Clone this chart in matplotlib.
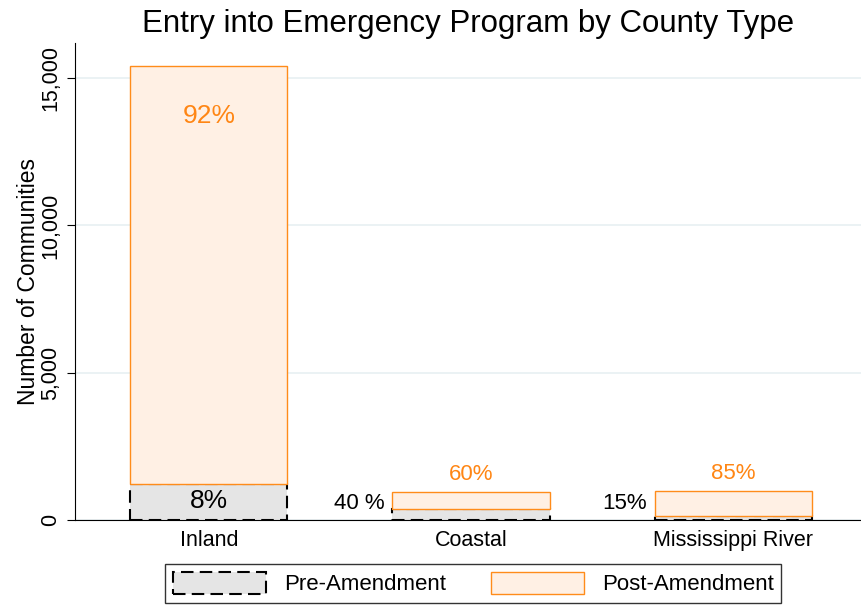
import numpy as np
import matplotlib
matplotlib.use('Agg')
import matplotlib.pyplot as plt
from matplotlib.patches import Patch

plt.rcParams['font.family'] = ['Liberation Sans', 'DejaVu Sans']

counties = ['Inland', 'Coastal', 'Mississippi River']
pre = [1230, 380, 150]
post = [14170, 570, 835]
pre_labels = ['8%', '40 %', '15%']
post_labels = ['92%', '60%', '85%']

orange_edge = '#ff8c1a'
orange_fill = '#fff0e4'
orange_text = '#ff8614'
gray_fill = '#e5e5e5'

fig = plt.figure(figsize=(8.62, 6.07), dpi=100)
ax = fig.add_axes([0.087, 0.1433, 0.913, 0.7857])

x = np.arange(len(counties))
w = 0.6
ax.bar(x, pre, width=w, color=gray_fill, edgecolor='black', linestyle=(0, (6, 3)), linewidth=1.5)
ax.bar(x, post, width=w, bottom=pre, color=orange_fill, edgecolor=orange_edge, linewidth=1.0)

tops = np.array(pre) + np.array(post)
# post-amendment labels
ax.text(x[0], tops[0] - 1700, post_labels[0], ha='center', va='center', color=orange_text, fontsize=19)
for i in [1, 2]:
    ax.text(x[i], tops[i] + 600, post_labels[i], ha='center', va='center', color=orange_text, fontsize=16)
# pre-amendment labels
ax.text(x[0], pre[0] / 2 + 30, pre_labels[0], ha='center', va='center', color='black', fontsize=19)
for i in [1, 2]:
    ax.text(x[i] - w / 2 - 0.03, 550, pre_labels[i], ha='right', va='center', color='black', fontsize=16)

ax.set_xlim(-0.51, 2.49)
ax.set_ylim(0, 16190)
ax.set_yticks([0, 5000, 10000, 15000])
ax.set_yticklabels(['0', '5,000', '10,000', '15,000'], rotation=90, va='center', fontsize=15.5)
ax.set_xticks(x)
ax.set_xticklabels(counties, fontsize=15.5)
ax.tick_params(axis='x', length=0, pad=7)
ax.tick_params(axis='y', length=6, direction='out', pad=4)
ax.yaxis.grid(True, color='#e8f0f2', linewidth=1.2)
ax.set_axisbelow(True)
for s in ['top', 'right']:
    ax.spines[s].set_visible(False)
ax.set_ylabel('Number of Communities', fontsize=16.5, labelpad=0)
ax.set_title('Entry into Emergency Program by County Type', fontsize=22.5, pad=8)

handles = [Patch(facecolor=gray_fill, edgecolor='black', linestyle=(0, (6, 3)), linewidth=1.5),
           Patch(facecolor=orange_fill, edgecolor=orange_edge, linewidth=1.0)]
leg = fig.legend(handles, ['Pre-Amendment', 'Post-Amendment'], loc='lower center',
                 bbox_to_anchor=(0.549, -0.012), ncol=2, fontsize=16, frameon=True,
                 fancybox=False, edgecolor='black', handlelength=4.2, handleheight=1.1,
                 columnspacing=2.0, borderpad=0.35)
leg.get_frame().set_linewidth(1.0)

fig.savefig('out.png', dpi=100)
